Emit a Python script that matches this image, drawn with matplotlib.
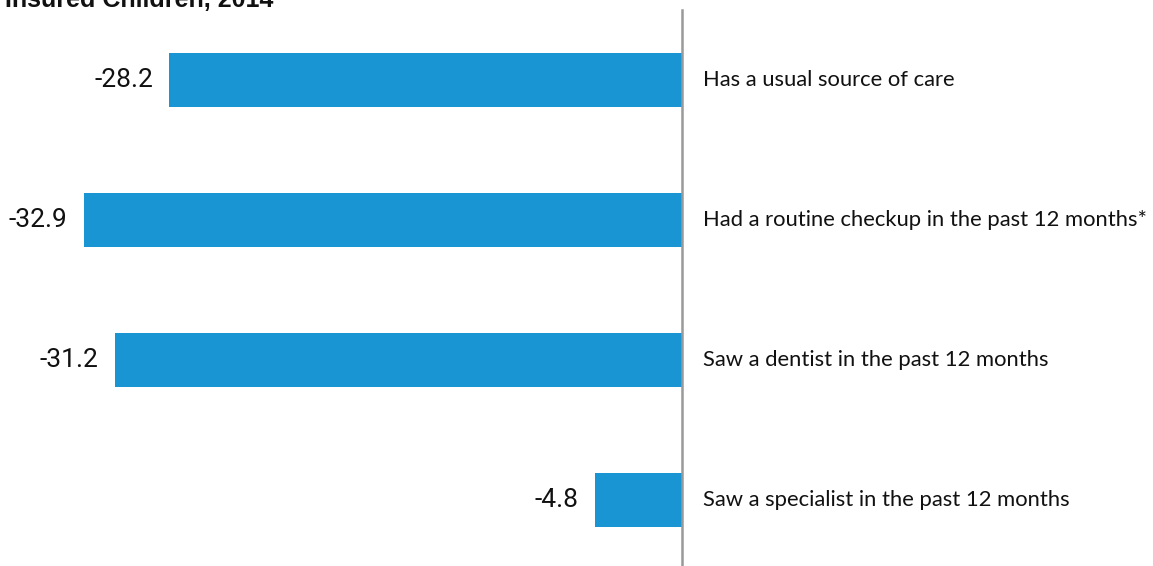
import matplotlib.pyplot as plt

# Difference in access to care, percentage points
measures = [
    'Has a usual source of care',
    'Had a routine checkup in the past 12 months*',
    'Saw a dentist in the past 12 months',
    'Saw a specialist in the past 12 months',
]
values = [-28.2, -32.9, -31.2, -4.8]

bar_color = '#1995d3'

fig = plt.figure(figsize=(11.53, 5.66), dpi=100)
ax = fig.add_axes([0, 0, 1, 1])

ypos = list(range(len(measures)))
ax.barh(ypos, values, height=0.39, color=bar_color)

# zero line
ax.axvline(0, ymin=0, ymax=0.982, color='#999999', linewidth=1.8)

for y, v, name in zip(ypos, values, measures):
    ax.text(v - 0.9, y, f'{v:.1f}', ha='right', va='center',
            fontsize=19, family='Roboto', color='#111111')
    ax.text(1.15, y, name, ha='left', va='center',
            fontsize=15.8, family='Lato', color='#111111')

ax.set_xlim(-37.51, 25.9)
ax.set_ylim(3.471, -0.571)
ax.axis('off')

# title sits partly above the top edge
fig.text(0.004, 1 - 7 / 566, 'Insured Children, 2014', ha='left', va='baseline',
         fontsize=18, fontweight='bold', family='Liberation Sans', color='#111111')

fig.savefig('out.png', dpi=100)
